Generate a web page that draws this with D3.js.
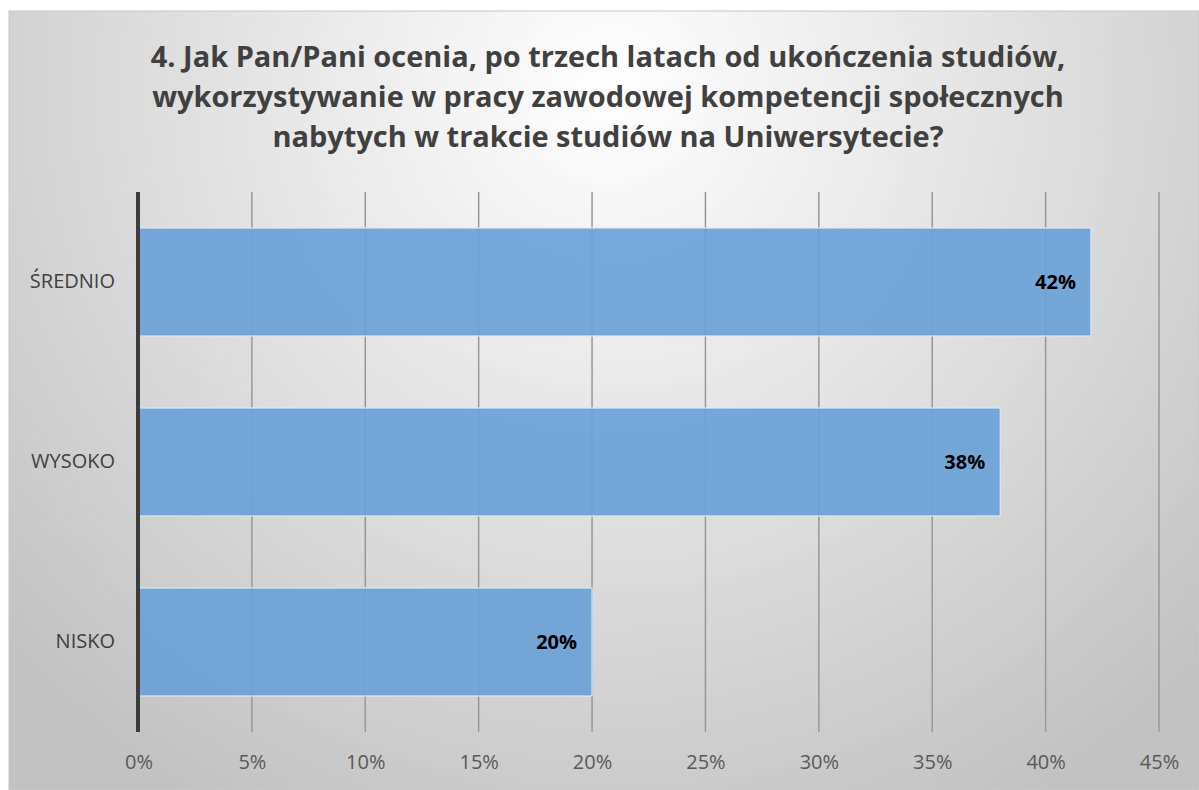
<!DOCTYPE html>
<html><head><meta charset="utf-8">
<script src="https://cdn.jsdelivr.net/npm/d3@7"></script>
<style>html,body{margin:0;padding:0;background:#fff;}svg{display:block;}</style>
</head><body>
<script>
const titleLines = ["4. Jak Pan/Pani ocenia, po trzech latach od ukończenia studiów,",
  "wykorzystywanie w pracy zawodowej kompetencji społecznych",
  "nabytych w trakcie studiów na Uniwersytecie?"];
const categories = ["ŚREDNIO", "WYSOKO", "NISKO"];
const values = [42, 38, 20];
const tickValues = [0, 5, 10, 15, 20, 25, 30, 35, 40, 45];

const W = 1199, H = 790;
const svg = d3.select("body").append("svg").attr("width", W).attr("height", H);
const defs = svg.append("defs");
const grad = defs.append("radialGradient").attr("id", "bg")
  .attr("gradientUnits", "userSpaceOnUse")
  .attr("cx", 610).attr("cy", 90).attr("r", 820);
grad.append("stop").attr("offset", "0").attr("stop-color", "#ffffff");
grad.append("stop").attr("offset", "0.45").attr("stop-color", "#e4e4e4");
grad.append("stop").attr("offset", "1").attr("stop-color", "#c2c2c2");

svg.append("rect").attr("x", 9).attr("y", 11).attr("width", W - 9).attr("height", H - 11)
  .attr("fill", "url(#bg)").attr("stroke", "#c8c8c8").attr("stroke-width", 1);

// title
const title = svg.append("g");
const baselines = [67, 107, 147];
titleLines.forEach((t, i) => {
  title.append("text").attr("x", 608).attr("y", baselines[i])
    .attr("text-anchor", "middle")
    .attr("font-family", "'Open Sans', sans-serif").attr("font-weight", "bold")
    .attr("font-size", 26).attr("fill", "#404040").text(t);
});
const l2 = title.selectAll("text").nodes()[1];
const fs = 26 * 912 / l2.getComputedTextLength();
title.selectAll("text").attr("font-size", fs);

const x = d3.scaleLinear().domain([0, 45]).range([138.5, 1159]);
const y = d3.scaleBand().domain(categories).range([192, 732]).paddingInner(0.4).paddingOuter(0.2);

// gridlines
svg.append("g").selectAll("line").data(tickValues.slice(1)).join("line")
  .attr("x1", d => x(d)).attr("x2", d => x(d)).attr("y1", 192).attr("y2", 732)
  .attr("stroke", "#989898").attr("stroke-width", 1.5);

// bars
svg.append("g").selectAll("rect").data(values).join("rect")
  .attr("x", x(0)).attr("y", (d, i) => y(categories[i]))
  .attr("width", d => x(d) - x(0)).attr("height", y.bandwidth())
  .attr("fill", "#6ca3d7").attr("fill-opacity", 0.93)
  .attr("stroke", "#dce9f5").attr("stroke-width", 1.2);

// y axis line
svg.append("line").attr("x1", 138).attr("x2", 138).attr("y1", 192).attr("y2", 732)
  .attr("stroke", "#3c3c3c").attr("stroke-width", 4);

// x axis labels
const xAxis = d3.axisBottom(x).tickValues(tickValues).tickFormat(d => d + "%").tickSize(0).tickPadding(0);
const gx = svg.append("g").attr("transform", "translate(0,755)").call(xAxis);
gx.select(".domain").remove();
gx.selectAll("text").attr("font-family", "'Open Sans', sans-serif").attr("font-size", 20)
  .attr("fill", "#595959");

// y labels
const yAxis = d3.axisLeft(y).tickSize(0).tickPadding(0);
const gy = svg.append("g").attr("transform", "translate(115,0)").call(yAxis);
gy.select(".domain").remove();
gy.selectAll("text").attr("font-family", "'Open Sans', sans-serif").attr("font-size", 20)
  .attr("fill", "#404040");

// data labels
svg.append("g").selectAll("text").data(values).join("text")
  .attr("x", d => x(d) - 15).attr("y", (d, i) => y(categories[i]) + y.bandwidth() / 2)
  .attr("dy", "0.35em").attr("text-anchor", "end")
  .attr("font-family", "'Open Sans', sans-serif").attr("font-weight", "bold").attr("font-size", 20)
  .attr("fill", "#000").text(d => d + "%");
</script>
</body></html>
